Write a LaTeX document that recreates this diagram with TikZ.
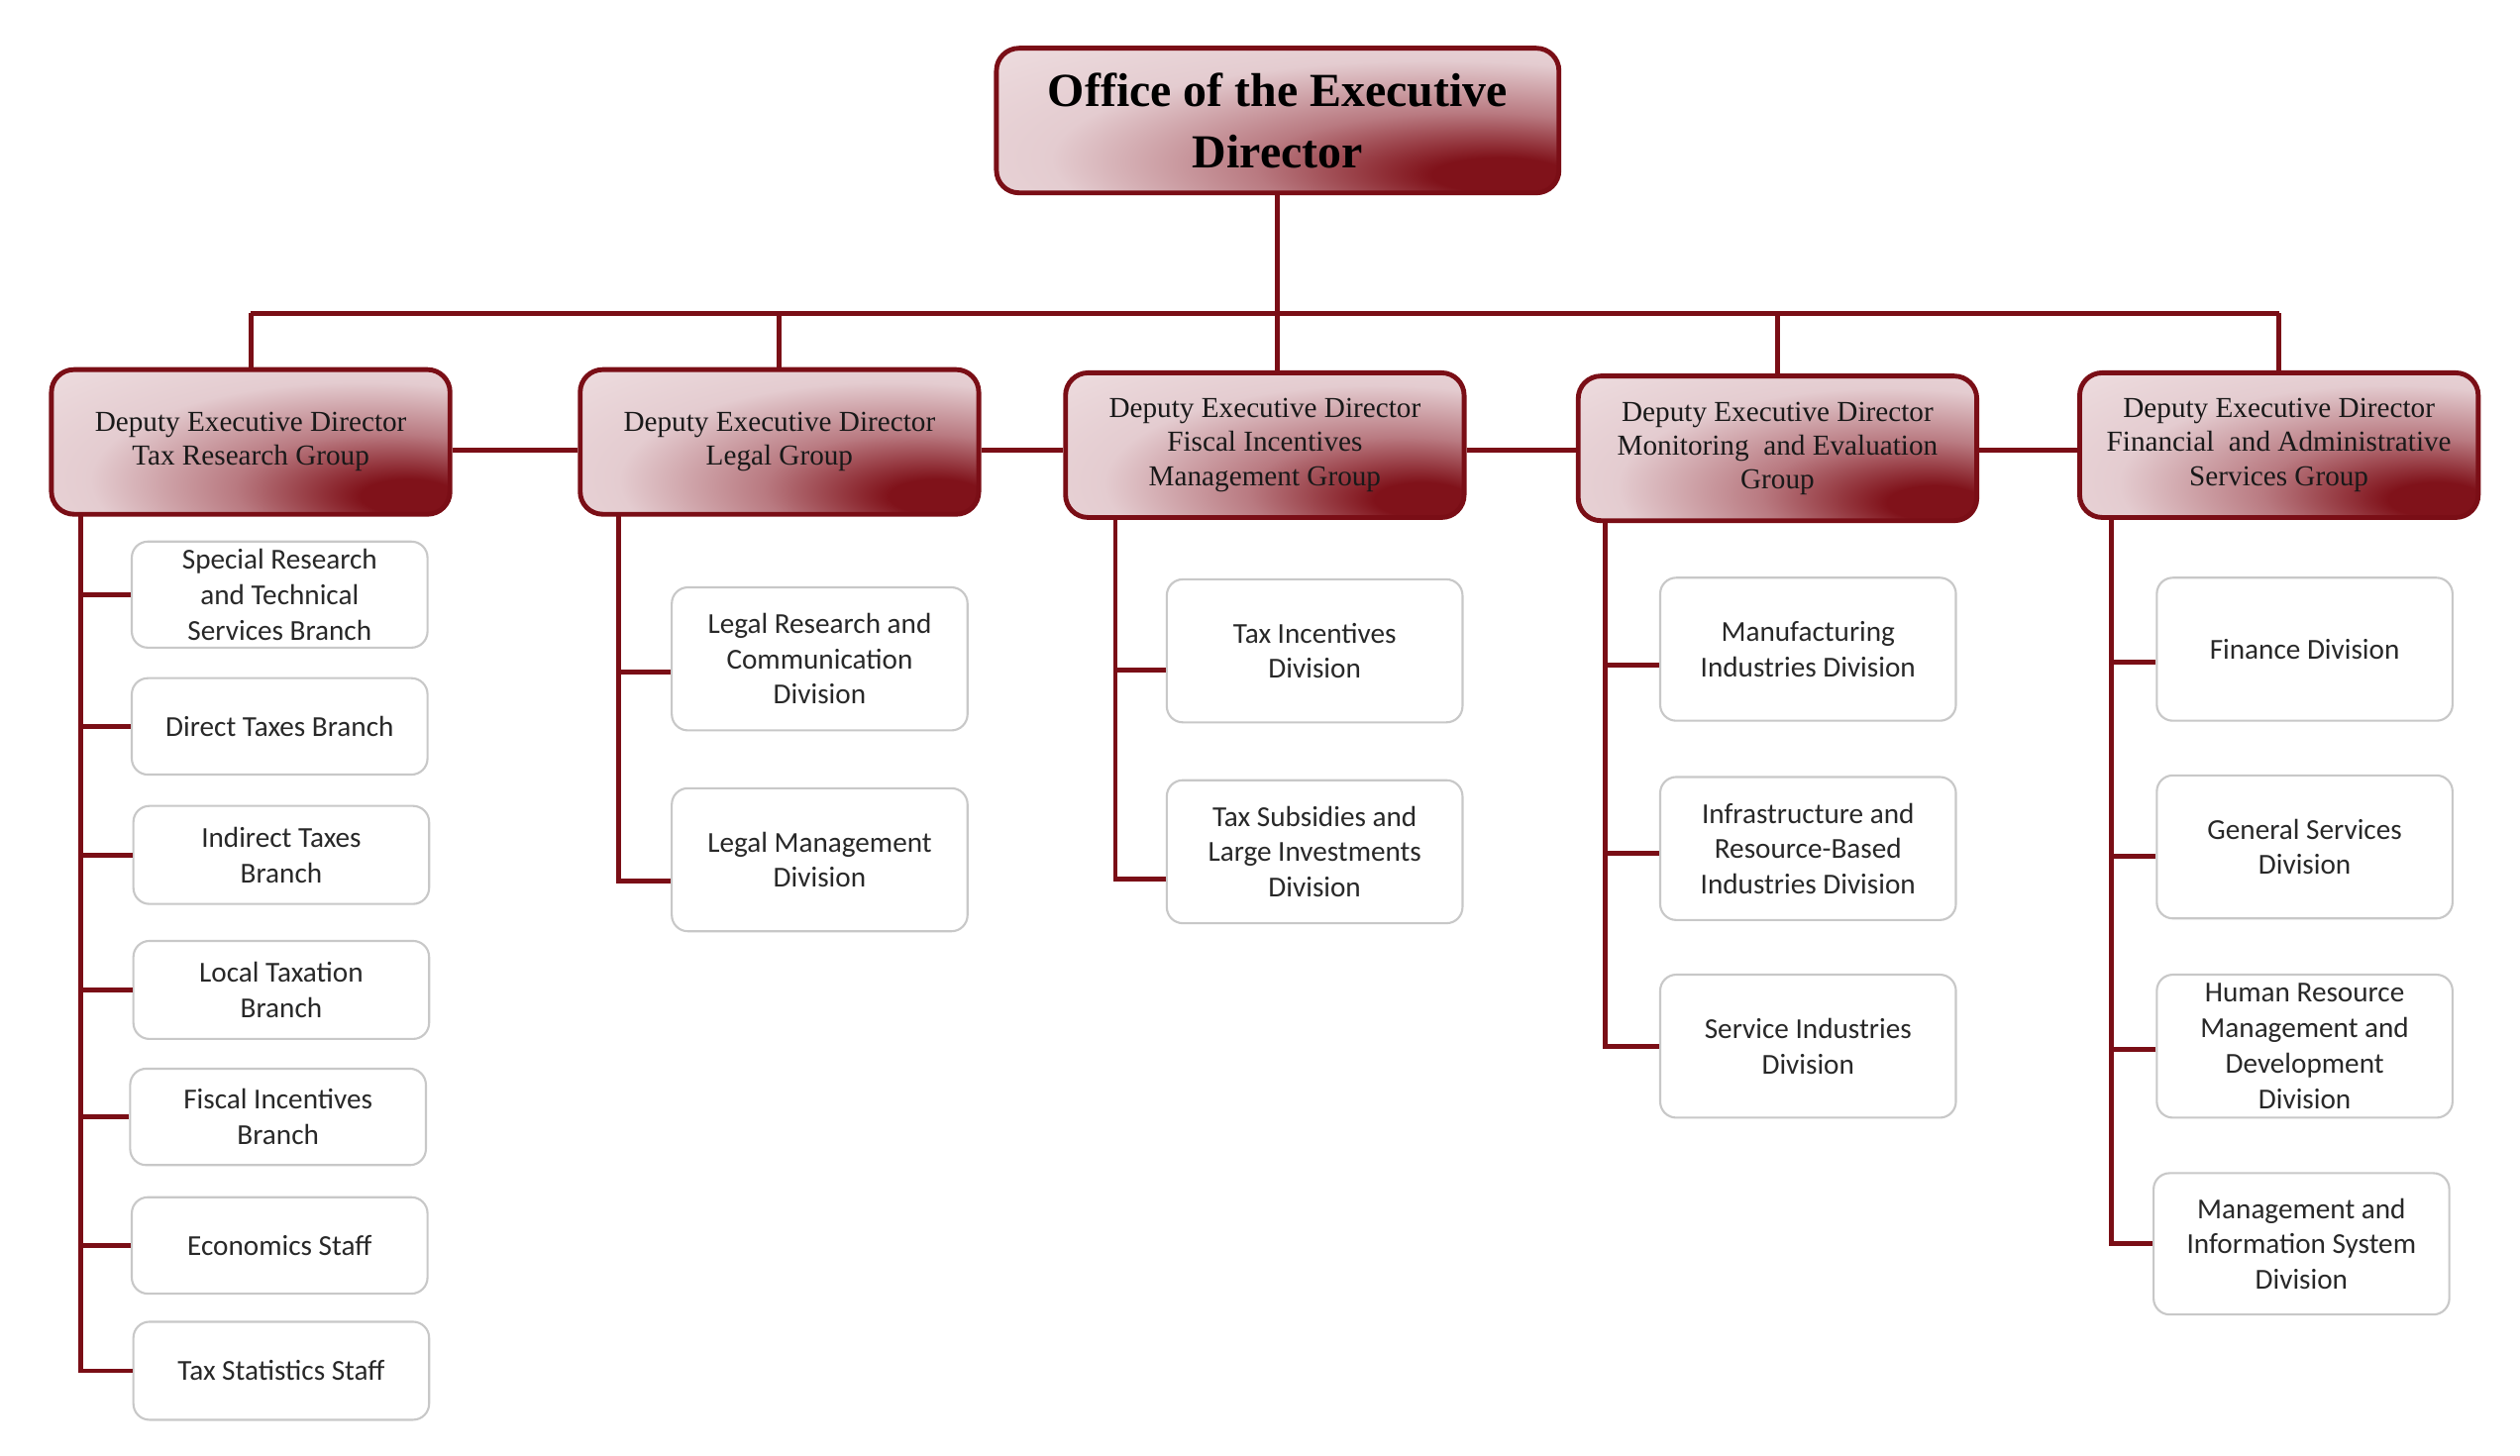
\documentclass[tikz,border=0pt]{standalone}
\usepackage{fontspec}
\setmainfont{Liberation Serif}
\newfontfamily\calibri{Carlito}
\definecolor{linkred}{RGB}{122,14,22}
\definecolor{pinklight}{RGB}{240,225,227}
\definecolor{pinkmid}{RGB}{228,204,208}
\definecolor{rosy}{RGB}{185,122,129}
\definecolor{maroon}{RGB}{128,18,26}
\definecolor{boxgray}{RGB}{200,200,200}
\definecolor{unittext}{RGB}{40,40,40}
\pgfdeclareradialshading{deputyshade}{\pgfpoint{21bp}{-20bp}}{color(0bp)=(maroon); color(6bp)=(maroon); color(19bp)=(rosy); color(34bp)=(pinkmid); color(55bp)=(pinklight); color(100bp)=(pinklight)}
\tikzset{
  link/.style={draw=linkred, line width=3pt},
  headbox/.style={draw=linkred, line width=3pt, rounded corners=14pt, shading=deputyshade,
    minimum width=350pt, minimum height=90pt, align=center, font=\fontsize{29.5}{38}\selectfont\bfseries},
  deputybox/.style={draw=linkred, line width=3pt, rounded corners=14pt, shading=deputyshade,
    minimum width=248pt, minimum height=90pt, align=center, inner sep=2pt, text=black!90,
    font=\fontsize{18}{21}\selectfont},
  unitbox/.style={draw=boxgray, line width=1.3pt, fill=white, rounded corners=10pt, minimum width=184pt,
    minimum height=89pt, align=center, inner sep=2pt, text=unittext, font=\calibri\fontsize{18}{22}\selectfont},
}
\begin{document}
\begin{tikzpicture}[x=1pt,y=-1pt]
  \useasboundingbox[fill=white] (0,0) rectangle (1568,906);
  \node[headbox] (head) at (795,75) {Office of the Executive\\Director};
  \node[deputybox] (d1) at (156,275) {Deputy Executive Director\\Tax Research Group};
  \node[deputybox] (d2) at (485,275) {Deputy Executive Director\\Legal Group};
  \node[deputybox] (d3) at (787,277) {Deputy Executive Director\\Fiscal Incentives\\Management Group};
  \node[deputybox] (d4) at (1106,279) {Deputy Executive Director\\Monitoring\ \ and Evaluation\\Group};
  \node[deputybox] (d5) at (1418,277) {Deputy Executive Director\\Financial\ \ and Administrative\\Services Group};
  \coordinate (bus) at (795,195);
  \coordinate (tie) at (795,280);
  \draw[link] (head.south) -- (head.south |- d3.north);
  \draw[link] (d1.north |- bus) -- (d5.north |- bus);
  \draw[link] (d1.north |- bus) -- (d1.north);
  \draw[link] (d2.north |- bus) -- (d2.north);
  \draw[link] (d4.north |- bus) -- (d4.north);
  \draw[link] (d5.north |- bus) -- (d5.north);
  \draw[link] (d1.east |- tie) -- (d2.west |- tie);
  \draw[link] (d2.east |- tie) -- (d3.west |- tie);
  \draw[link] (d3.east |- tie) -- (d4.west |- tie);
  \draw[link] (d4.east |- tie) -- (d5.west |- tie);
  % tax research group
  \node[unitbox, minimum height=66pt] (s1) at (174,370) {Special Research\\and Technical\\Services Branch};
  \node[unitbox, minimum height=60pt] (s2) at (174,452) {Direct Taxes Branch};
  \node[unitbox, minimum height=61pt] (s3) at (175,532) {Indirect Taxes\\Branch};
  \node[unitbox, minimum height=61pt] (s4) at (175,616) {Local Taxation\\Branch};
  \node[unitbox, minimum height=60pt] (s5) at (173,695) {Fiscal Incentives\\Branch};
  \node[unitbox, minimum height=60pt] (s6) at (174,775) {Economics Staff};
  \node[unitbox, minimum height=61pt] (s7) at (175,853) {Tax Statistics Staff};
  \coordinate (sp1) at (50,320);
  \draw[link] (sp1) |- (s1.west) (sp1) |- (s2.west) (sp1) |- (s3.west) (sp1) |- (s4.west)
    (sp1) |- (s5.west) (sp1) |- (s6.west) (sp1) |- (s7.west);
  % legal group
  \node[unitbox] (l1) at (510,410) {Legal Research and\\Communication\\Division};
  \node[unitbox] (l2) at (510,535) {Legal Management\\Division};
  \coordinate (sp2) at (385,320);
  \draw[link] (sp2) |- ([yshift=-8pt]l1.west) (sp2) |- ([yshift=-13pt]l2.west);
  % fiscal incentives management group
  \node[unitbox] (t1) at (818,405) {Tax Incentives\\Division};
  \node[unitbox] (t2) at (818,530) {Tax Subsidies and\\Large Investments\\Division};
  \coordinate (sp3) at (694,322);
  \draw[link] (sp3) |- ([yshift=-12pt]t1.west) (sp3) |- ([yshift=-17pt]t2.west);
  % monitoring and evaluation group
  \node[unitbox] (m1) at (1125,404) {Manufacturing\\Industries Division};
  \node[unitbox] (m2) at (1125,528) {Infrastructure and\\Resource-Based\\Industries Division};
  \node[unitbox] (m3) at (1125,651) {Service Industries\\Division};
  \coordinate (sp4) at (999,324);
  \draw[link] (sp4) |- ([yshift=-10pt]m1.west) (sp4) |- ([yshift=-3pt]m2.west) (sp4) |- (m3.west);
  % financial and administrative services group
  \node[unitbox] (f1) at (1434,404) {Finance Division};
  \node[unitbox] (f2) at (1434,527) {General Services\\Division};
  \node[unitbox] (f3) at (1434,651) {Human Resource\\Management and\\Development\\Division};
  \node[unitbox, minimum height=88pt] (f4) at (1432,774) {Management and\\Information System\\Division};
  \coordinate (sp5) at (1314,322);
  \draw[link] (sp5) |- ([yshift=-8pt]f1.west) (sp5) |- ([yshift=-6pt]f2.west) (sp5) |- ([yshift=-2pt]f3.west)
    (sp5) |- (f4.west);
\end{tikzpicture}
\end{document}
